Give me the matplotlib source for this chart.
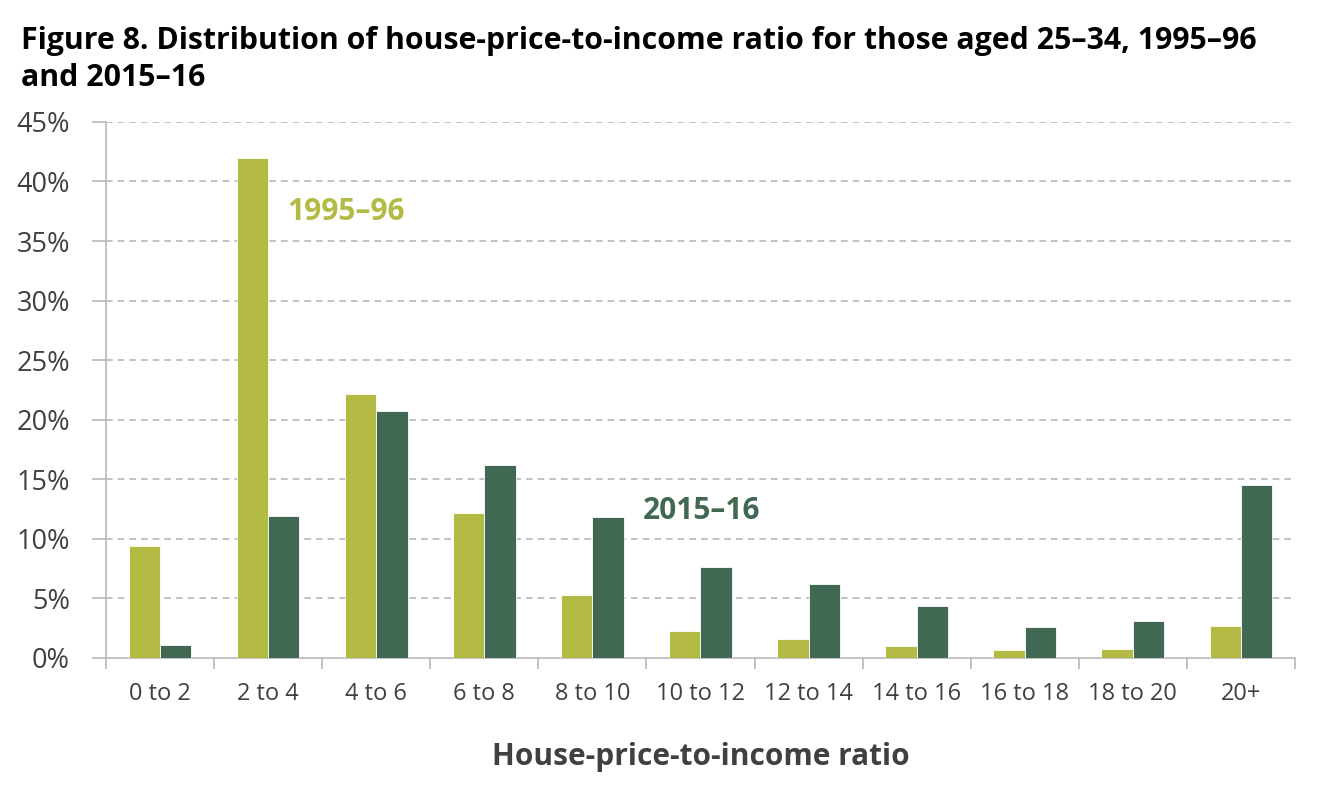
import matplotlib
matplotlib.use("Agg")
import matplotlib.pyplot as plt
import numpy as np

plt.rcParams['font.family'] = ['Open Sans', 'DejaVu Sans']

categories = ["0 to 2", "2 to 4", "4 to 6", "6 to 8", "8 to 10", "10 to 12",
              "12 to 14", "14 to 16", "16 to 18", "18 to 20", "20+"]
share_1995 = [9.4, 42.0, 22.2, 12.2, 5.3, 2.3, 1.6, 1.0, 0.7, 0.75, 2.7]
share_2015 = [1.1, 11.9, 20.7, 16.2, 11.8, 7.6, 6.2, 4.4, 2.6, 3.1, 14.5]
yticks = [0, 5, 10, 15, 20, 25, 30, 35, 40, 45]

light = "#b3bb45"
dark = "#416852"
text_col = "#404040"
grid_col = "#b8b8b8"

fig = plt.figure(figsize=(13.2, 8.02), dpi=100)
ax = fig.add_axes([0.0803, 0.1796, 0.9007, 0.6684])

x = np.arange(len(categories))
w = 0.29
ax.bar(x - w / 2, share_1995, w, color=light, edgecolor="white", linewidth=0.6, zorder=3)
ax.bar(x + w / 2, share_2015, w, color=dark, edgecolor="white", linewidth=0.6, zorder=3)

ax.set_xlim(-0.5, len(categories) - 0.5)
ax.set_ylim(0, 45)
ax.set_yticks(yticks)
ax.set_yticklabels([f"{v}%" for v in yticks], fontsize=19.5, color=text_col)
for v in yticks[1:]:
    ax.axhline(v, color=grid_col, linestyle=(0, (4, 3)), linewidth=1.2, zorder=1)

# category labels centred, tick marks on category boundaries
ax.set_xticks(x)
ax.set_xticklabels(categories, fontsize=17, color=text_col)
ax.tick_params(axis="x", length=0, pad=17)
ax.set_xticks(np.arange(len(categories) + 1) - 0.5, minor=True)
ax.tick_params(axis="x", which="minor", length=8, width=1.2, color=grid_col)
ax.tick_params(axis="y", length=10, width=1.2, color=grid_col, pad=16)

for s in ["top", "right"]:
    ax.spines[s].set_visible(False)
for s in ["left", "bottom"]:
    ax.spines[s].set_color(grid_col)
    ax.spines[s].set_linewidth(1.2)

ax.set_xlabel("House-price-to-income ratio", fontsize=21.5, fontweight="bold",
              color=text_col, labelpad=26)

ax.text(1.18, 37.4, "1995–96", color=light, fontsize=21.5,
        fontweight="bold", ha="left", va="center")
ax.text(4.47, 12.3, "2015–16", color=dark, fontsize=21.5,
        fontweight="bold", ha="left", va="center")

fig.text(0.016, 0.968, "Figure 8. Distribution of house-price-to-income ratio for those aged 25–34, 1995–96\nand 2015–16",
         fontsize=21.8, fontweight="bold", color="black", ha="left", va="top",
         linespacing=1.3)

fig.savefig("out.png", dpi=100, facecolor="white")
